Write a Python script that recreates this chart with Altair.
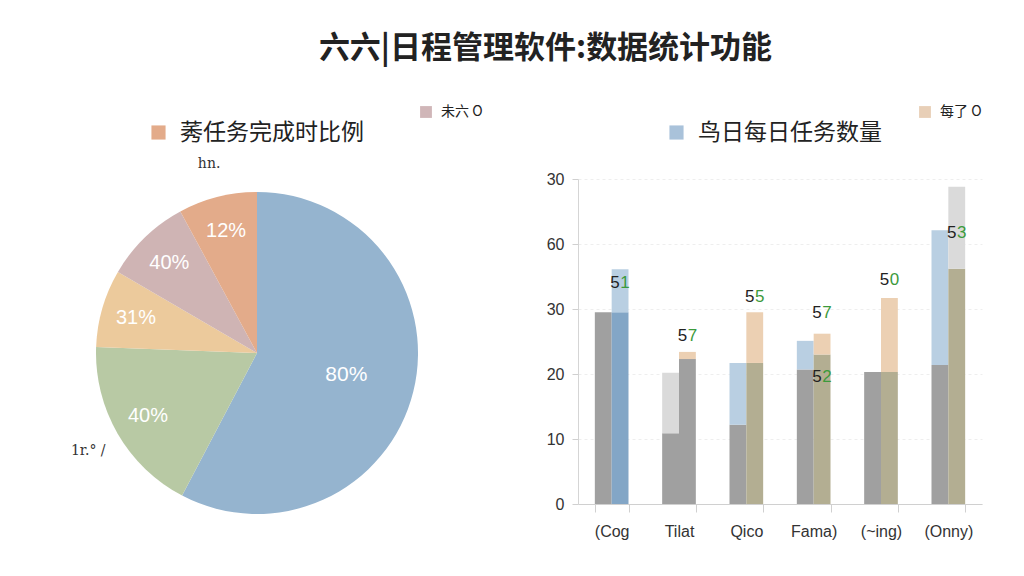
import altair as alt
import pandas as pd

# ---------------- text ----------------
title_text = "六六|日程管理软件:数据统计功能"

pie_legend_main = "莠任务完成时比例"
pie_legend_minor = "未六 O"
bar_legend_main = "鸟日每日任务数量"
bar_legend_minor = "每了 O"

# ---------------- pie data ----------------
slice_names = ["A", "B", "C", "D", "E"]
pie_values = [57.7, 17.9, 7.8, 8.7, 7.9]
pie_pct_labels = ["80%", "40%", "31%", "40%", "12%"]
pie_outer_labels = ["", "1r.° /", "", "", "hn."]
pie_colors = ["#95b4cf", "#b8c9a4", "#ecca9c", "#cfb4b4", "#e3ab8a"]

# ---------------- bar data ----------------
bar_categories = ["(Cog", "Tilat", "Qico", "Fama)", "(~ing)", "(Onny)"]
left_lower = [29.5, 10.9, 12.2, 20.7, 20.3, 21.4]
left_upper = [29.5, 20.2, 21.7, 25.1, 20.3, 42.1]
right_lower = [29.5, 22.3, 21.7, 23.0, 20.3, 36.2]
right_upper = [36.1, 23.4, 29.5, 26.2, 31.7, 48.8]
left_lower_tone = ["gray", "gray", "gray", "gray", "gray", "gray"]
left_upper_tone = ["", "lightgray", "lightblue", "lightblue", "", "lightblue"]
right_lower_tone = ["blue", "gray", "olive", "olive", "olive", "olive"]
right_upper_tone = ["lightblue", "peach", "peach", "peach", "peach", "lightgray"]

tone_names = ["gray", "lightgray", "blue", "lightblue", "olive", "peach"]
tone_colors = ["#a0a0a0", "#dadada", "#83a6c6", "#b9cfe2", "#b3ae92", "#ecd0b3"]

value_label_cats = ["(Cog", "Tilat", "Qico", "Fama)", "Fama)", "(~ing)", "(Onny)"]
value_label_y = [34.0, 25.8, 31.8, 29.4, 19.5, 34.5, 41.7]
value_label_text = ["51", "57", "55", "57", "52", "50", "53"]

y_tick_values = [0, 10, 20, 30, 40, 50]
y_tick_labels = ["0", "10", "20", "30", "60", "30"]

CJK = "Noto Sans CJK SC"
LAT = "Liberation Sans"


def legend_layer(field, label, color, lx, ly, sym, fsize, offset):
    df = pd.DataFrame({field: [label]})
    return alt.Chart(df).mark_square(size=0).encode(
        color=alt.Color(
            f"{field}:N",
            scale=alt.Scale(domain=[label], range=[color]),
            legend=alt.Legend(
                title=None, orient="none", legendX=lx, legendY=ly,
                symbolType="square", symbolSize=sym, symbolStrokeWidth=0,
                symbolOpacity=1, labelFontSize=fsize, labelFont=CJK,
                labelColor="#222", labelOffset=offset, padding=0, labelLimit=0,
            ),
        )
    )


# ---------------- pie panel ----------------
pie_df = pd.DataFrame({
    "slice": slice_names,
    "value": pie_values,
    "idx": list(range(len(slice_names))),
    "big": [pie_pct_labels[i] if i == 0 else "" for i in range(len(slice_names))],
    "small": [pie_pct_labels[i] if i != 0 else "" for i in range(len(slice_names))],
    "outer": pie_outer_labels,
})

base = alt.Chart(pie_df).encode(
    theta=alt.Theta("value:Q", stack=True),
    order=alt.Order("idx:Q"),
    detail="slice:N",
)
arc = base.mark_arc(outerRadius=161).encode(
    color=alt.Color("slice:N", scale=alt.Scale(domain=slice_names, range=pie_colors), legend=None)
)
txt_big = base.mark_text(radius=92, fontSize=21, font=LAT, color="white").encode(text="big:N")
txt_small = base.mark_text(radius=126, fontSize=20, font=LAT, color="white").encode(text="small:N")
txt_outer = base.mark_text(radius=195, fontSize=14, font="DejaVu Serif", color="#333").encode(text="outer:N")

pie_panel = alt.layer(
    arc, txt_big, txt_small, txt_outer,
    legend_layer("pm", pie_legend_main, "#e3ab8a", 134, -58, 200, 23, 10),
    legend_layer("pn", pie_legend_minor, "#d0b6b8", 406, -74, 140, 14, 8),
).resolve_scale(color="independent").properties(width=488, height=348)

# ---------------- bar panel ----------------
rows = []
for i, c in enumerate(bar_categories):
    rows.append(dict(cat=c, side="L", y0=0, y1=left_lower[i], tone=left_lower_tone[i]))
    if left_upper[i] > left_lower[i]:
        rows.append(dict(cat=c, side="L", y0=left_lower[i], y1=left_upper[i], tone=left_upper_tone[i]))
    rows.append(dict(cat=c, side="R", y0=0, y1=right_lower[i], tone=right_lower_tone[i]))
    if right_upper[i] > right_lower[i]:
        rows.append(dict(cat=c, side="R", y0=right_lower[i], y1=right_upper[i], tone=right_upper_tone[i]))
bar_df = pd.DataFrame(rows)

label_expr = "[" + ",".join(f"'{t}'" for t in y_tick_labels) + "][round(datum.value/10)]"

x_enc = alt.X(
    "cat:N", sort=bar_categories,
    scale=alt.Scale(paddingInner=0.5, paddingOuter=0.25),
    axis=alt.Axis(
        title=None, labelAngle=0, labelFontSize=16, labelColor="#333", labelFont=LAT,
        labelPadding=11, tickBand="extent", tickSize=8, tickColor="#d0d0d0",
        domainColor="#d0d0d0", grid=False,
    ),
)
xo_enc = alt.XOffset("side:N", scale=alt.Scale(domain=["L", "R"], paddingInner=0, paddingOuter=0))

bars = alt.Chart(bar_df).mark_bar().encode(
    x=x_enc,
    xOffset=xo_enc,
    y=alt.Y(
        "y0:Q", scale=alt.Scale(domain=[0, 50], nice=False),
        axis=alt.Axis(
            title=None, values=y_tick_values, labelExpr=label_expr,
            labelFontSize=16, labelColor="#333", labelFont=LAT, labelPadding=8,
            tickSize=6, tickColor="#d0d0d0", domainColor="#d5d5d5",
            grid=True, gridColor="#eeeeee", gridDash=[3, 3],
        ),
    ),
    y2="y1:Q",
    color=alt.Color("tone:N", scale=alt.Scale(domain=tone_names, range=tone_colors), legend=None),
)

lab_df = pd.DataFrame({
    "cat": value_label_cats,
    "side": ["R"] * len(value_label_cats),
    "y": value_label_y,
    "first": [t[0] for t in value_label_text],
    "second": [t[1:] for t in value_label_text],
})
lab1 = alt.Chart(lab_df).mark_text(dx=-5, fontSize=17, font=LAT, color="#222").encode(
    x=alt.X("cat:N", sort=bar_categories), xOffset="side:N", y="y:Q", text="first:N"
)
lab2 = alt.Chart(lab_df).mark_text(dx=5, fontSize=17, font=LAT, color="#3c9a3c").encode(
    x=alt.X("cat:N", sort=bar_categories), xOffset="side:N", y="y:Q", text="second:N"
)

bar_panel = alt.layer(
    bars, lab1, lab2,
    legend_layer("bm", bar_legend_main, "#a9c2da", 87, -58, 200, 23, 10),
    legend_layer("bn", bar_legend_minor, "#e8cfb7", 340, -74, 140, 14, 8),
).resolve_scale(color="independent").properties(width=404, height=325)

chart = alt.hconcat(pie_panel, bar_panel, spacing=45).resolve_scale(
    color="independent"
).properties(
    title=alt.TitleParams(
        text=title_text, fontSize=31, font=CJK, fontWeight="bold", color="#222",
        anchor="middle", dx=48, offset=40,
    ),
    padding={"left": 5, "top": 25, "right": 5, "bottom": 5},
).configure(background="white").configure_view(stroke=None)

chart.save("out.html", embed_options={"renderer": "svg", "actions": False})
